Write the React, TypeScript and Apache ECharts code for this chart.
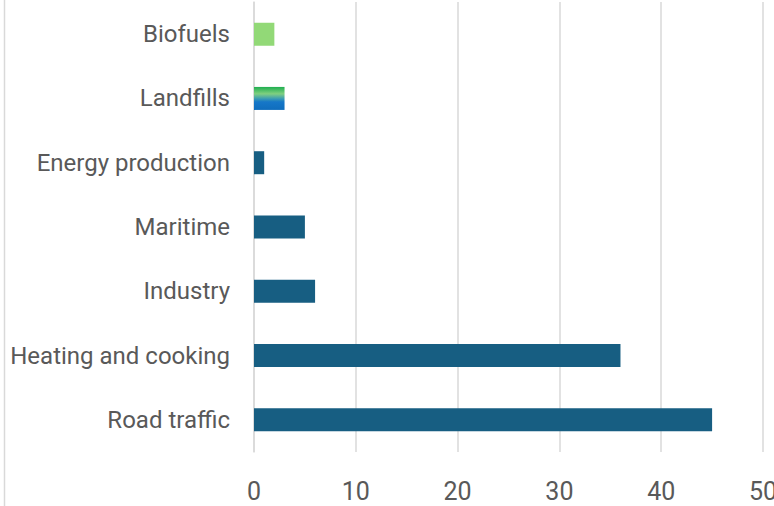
import React, { useEffect, useRef } from "react";
import * as echarts from "echarts";

const categories = [
  "Road traffic",
  "Heating and cooking",
  "Industry",
  "Maritime",
  "Energy production",
  "Landfills",
  "Biofuels",
];
const values = [45, 36, 6, 5, 1, 3, 2];
const xTicks = [0, 10, 20, 30, 40, 50];

const FONT = "Roboto, 'Liberation Sans Narrow', sans-serif";

export default function App() {
  const ref = useRef<HTMLDivElement>(null);
  useEffect(() => {
    document.body.style.margin = "0";
    const chart = echarts.init(ref.current!, null, { renderer: "svg" });
    const dark = "#175e82";
    const landfillGrad = new echarts.graphic.LinearGradient(0, 0, 0, 1, [
      { offset: 0, color: "#1fae4f" },
      { offset: 0.3, color: "#80d080" },
      { offset: 0.5, color: "#3f9fb0" },
      { offset: 0.65, color: "#1677c8" },
      { offset: 1, color: "#0f6dbd" },
    ]);
    const data = values.map((v, i) => {
      const name = categories[i];
      let color: any = dark;
      if (name === "Landfills") color = landfillGrad;
      if (name === "Biofuels") color = "#92d977";
      return { value: v, itemStyle: { color } };
    });
    chart.setOption({
      animation: false,
      grid: {
        left: 254,
        right: 11,
        top: 2,
        bottom: 54,
        containLabel: false,
        outerBoundsMode: "none",
      },
      xAxis: {
        type: "value",
        min: 0,
        max: xTicks[xTicks.length - 1],
        interval: 10,
        axisLine: { show: false },
        axisTick: { show: false },
        splitLine: { show: true, lineStyle: { color: "#d9d9d9", width: 1.5 } },
        axisLabel: {
          color: "#595959",
          fontSize: 25,
          fontFamily: FONT,
          margin: 27,
        },
      },
      yAxis: {
        type: "category",
        data: categories,
        axisLine: { show: true, lineStyle: { color: "#d9d9d9", width: 1.5 } },
        axisTick: { show: false },
        axisLabel: {
          color: "#595959",
          fontSize: 24,
          fontFamily: FONT,
          margin: 24,
        },
      },
      graphic: [
        {
          type: "line",
          shape: { x1: 4.5, y1: 0, x2: 4.5, y2: 506 },
          style: { stroke: "#d9d9d9", lineWidth: 1.5 },
        },
      ],
      series: [
        {
          type: "bar",
          data,
          barWidth: 23,
        },
      ],
    });
    return () => chart.dispose();
  }, []);
  return (
    <div
      ref={ref}
      style={{ position: "absolute", left: 0, top: 0, width: 774, height: 506 }}
    />
  );
}
